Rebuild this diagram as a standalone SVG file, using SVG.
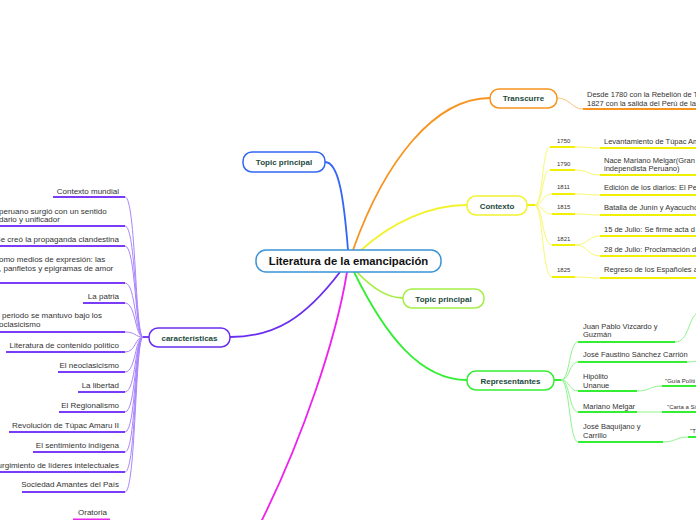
<svg xmlns="http://www.w3.org/2000/svg" width="696" height="520" viewBox="0 0 696 520">
<style>
text{font-family:"Liberation Sans",Arial,sans-serif;fill:#333}
.node{fill:#fff;stroke-width:1.5}
.lbl{font-weight:bold;font-size:8px;fill:#1d4a3c;text-anchor:middle}
.main{font-weight:bold;font-size:11.3px;fill:#111;text-anchor:middle}
.t8{font-size:8px}
.t75{font-size:7.5px}
.t6{font-size:6px}
.end{text-anchor:end}
.c{fill:none}
.ul{fill:none;stroke-width:2}
.pu{stroke:#7a3cf7}
.pul{stroke:#a986fb;stroke-width:1}
.ye{stroke:#f0f000}
.yel{stroke:#f8f870;stroke-width:1}
.gr{stroke:#33ee33}
.grl{stroke:#8ef58e;stroke-width:1}
.or{stroke:#f7931e}
</style>
<g id="connectors">
<path class="c" d="M348,250 C344,200 339,162 325,162" stroke="#3366f5" stroke-width="1.8"/>
<path class="c" d="M353,250 C385,160 435,98 490,98" stroke="#f7931e" stroke-width="1.8"/>
<path class="c" d="M360,251 C392,222 430,205 467,205" stroke="#f2f230" stroke-width="1.8"/>
<path class="c" d="M357,272 C372,288 388,298 403,298" stroke="#a3ef45" stroke-width="1.8"/>
<path class="c" d="M354,272 C385,335 420,380 467,380" stroke="#33ee33" stroke-width="1.8"/>
<path class="c" d="M340,272 C305,318 275,337 230,337" stroke="#6a2ef0" stroke-width="1.8"/>
<path class="c" d="M347,272 C336,340 302,440 260,524" stroke="#ee22ee" stroke-width="1.8"/>
<!-- transcurre -->
<path class="c" d="M557,98 C570,98 572,109 583,109" stroke="#fbc27a" stroke-width="1"/>
<path class="ul or" d="M583,109 H696"/>
<!-- contexto -->
<path d="M526,205 H535" class="ul ye"/>
<g class="c yel">
<path d="M535,205 C543,205 542,147 550,147"/>
<path d="M535,205 C543,205 542,170 550,170"/>
<path d="M535,205 C543,205 542,194 552,194"/>
<path d="M535,205 C543,205 542,214 552,214"/>
<path d="M535,205 C543,205 542,245 552,245"/>
<path d="M535,205 C543,205 542,277 552,277"/>
<path d="M575,147 C588,147 588,148 600,148"/>
<path d="M575,170 C588,170 588,175 600,175"/>
<path d="M575,194 C588,194 588,195 600,195"/>
<path d="M575,214 C588,214 588,215 600,215"/>
<path d="M575,245 C588,245 588,236 600,236"/>
<path d="M575,245 C588,245 588,256 600,256"/>
<path d="M575,277 C588,277 588,278 600,278"/>
</g>
<g class="ul ye">
<path d="M550,147 H575"/><path d="M550,170 H575"/><path d="M552,194 H575"/><path d="M552,214 H575"/><path d="M552,245 H575"/><path d="M552,277 H575"/>
<path d="M600,148 H696"/><path d="M600,175 H696"/><path d="M600,195 H696"/><path d="M600,215 H696"/><path d="M600,236 H696"/><path d="M600,256 H696"/><path d="M600,278 H696"/>
</g>
<!-- representantes -->
<path d="M553,380 H561" class="ul gr"/>
<g class="c grl">
<path d="M561,380 C570,380 569,342 578,342"/>
<path d="M561,380 C570,380 569,362 578,362"/>
<path d="M561,380 C570,380 569,391 578,391"/>
<path d="M561,380 C570,380 569,412 578,412"/>
<path d="M561,380 C570,380 569,442 578,442"/>
<path d="M675,342 C690,342 688,314 700,312"/>
<path d="M687,362 C692,362 694,361 700,361"/>
<path d="M637,391 C650,391 650,386 662,386"/>
<path d="M637,412 H662"/>
<path d="M663,442 C676,442 676,437 688,437"/>
</g>
<g class="ul gr">
<path d="M578,342 H675"/><path d="M578,362 H687"/><path d="M578,391 H637"/><path d="M578,412 H637"/><path d="M578,442 H663"/>
<path d="M662,386 H696"/><path d="M662,412 H696"/><path d="M688,437 H696"/>
</g>
<!-- caracteristicas -->
<path d="M149,337 H143" class="ul pu"/>
<g class="c pul">
<path d="M143,337 C135,337 136,197 125,197"/>
<path d="M143,337 C135,337 136,226 125,226"/>
<path d="M143,337 C135,337 136,246 125,246"/>
<path d="M143,337 C135,337 136,283 125,283"/>
<path d="M143,337 C135,337 136,303 125,303"/>
<path d="M143,337 C135,337 136,332 125,332"/>
<path d="M143,337 C135,337 136,352 125,352"/>
<path d="M143,337 C135,337 136,372 125,372"/>
<path d="M143,337 C135,337 136,392 125,392"/>
<path d="M143,337 C135,337 136,412 125,412"/>
<path d="M143,337 C135,337 136,432 125,432"/>
<path d="M143,337 C135,337 136,452 125,452"/>
<path d="M143,337 C135,337 136,472 125,472"/>
<path d="M143,337 C135,337 136,492 125,492"/>
</g>
<g class="ul pu">
<path d="M53,197 H125"/><path d="M0,226 H125"/><path d="M0,246 H125"/><path d="M0,283 H125"/><path d="M83,303 H125"/><path d="M0,332 H125"/><path d="M6,352 H125"/><path d="M58,372 H125"/><path d="M78,392 H125"/><path d="M59,412 H125"/><path d="M9,432 H125"/><path d="M33,452 H125"/><path d="M0,472 H125"/><path d="M22,492 H125"/>
</g>
<path d="M73,519.5 H110" class="ul" stroke="#ee22ee"/>
</g>
<g id="center">
<rect class="node" x="256" y="250" width="185" height="22" rx="10" stroke="#3a93d6"/>
<text class="main" x="348.5" y="265">Literatura de la emancipación</text>
</g>
<g id="topic-top">
<rect class="node" x="243" y="152" width="82" height="20" rx="9" stroke="#3366f5"/>
<text class="lbl" x="284" y="165">Topic principal</text>
</g>
<g id="transcurre">
<rect class="node" x="490" y="89" width="67" height="19" rx="9" stroke="#f7931e"/>
<text class="lbl" x="523.5" y="101">Transcurre</text>
<text class="t75" x="587" y="97">Desde 1780 con la Rebelión de Tú</text>
<text class="t75" x="587" y="105.5">1827 con la salida del Perú de las</text>
</g>
<g id="contexto">
<rect class="node" x="467" y="196" width="60" height="19" rx="9" stroke="#f2f230"/>
<text class="lbl" x="497" y="208.5">Contexto</text>
<text class="t6" x="557" y="143">1750</text>
<text class="t6" x="557" y="166">1790</text>
<text class="t6" x="557" y="189">1811</text>
<text class="t6" x="557" y="209">1815</text>
<text class="t6" x="557" y="241">1821</text>
<text class="t6" x="557" y="272">1825</text>
<text class="t75" x="604" y="143.5">Levantamiento de Túpac Am</text>
<text class="t75" x="604" y="162.5">Nace Mariano Melgar(Gran p</text>
<text class="t75" x="604" y="171">independista Peruano)</text>
<text class="t75" x="604" y="189.5">Edición de los diarios: El Per</text>
<text class="t75" x="604" y="209.5">Batalla de Junín y Ayacucho</text>
<text class="t75" x="604" y="231.5">15 de Julio: Se firme acta d</text>
<text class="t75" x="604" y="251.5">28 de Julio: Proclamación de</text>
<text class="t75" x="604" y="272">Regreso de los Españoles a l</text>
</g>
<g id="topic-right">
<rect class="node" x="403" y="289" width="81" height="19" rx="9" stroke="#a3ef45"/>
<text class="lbl" x="443.5" y="301.5">Topic principal</text>
</g>
<g id="representantes">
<rect class="node" x="467" y="371" width="87" height="19" rx="9" stroke="#33ee33"/>
<text class="lbl" x="510.5" y="383.5">Representantes</text>
<text class="t75" x="583" y="328.5">Juan Pablo Vizcardo y</text>
<text class="t75" x="583" y="336.5">Guzmán</text>
<text class="t75" x="583" y="357">José Faustino Sánchez Carrión</text>
<text class="t75" x="583" y="379">Hipólito</text>
<text class="t75" x="583" y="387.5">Unanue</text>
<text class="t75" x="583" y="408.5">Mariano Melgar</text>
<text class="t75" x="583" y="429">José Baquíjano y</text>
<text class="t75" x="583" y="437.5">Carrillo</text>
<text class="t6" x="665" y="383">"Guía Políti</text>
<text class="t6" x="667" y="408.5">"Carta a Si</text>
<text class="t6" x="690" y="433">"T</text>
</g>
<g id="caracteristicas">
<rect class="node" x="149" y="328" width="81" height="19" rx="9" stroke="#6a2ef0"/>
<text class="lbl" x="189.5" y="340.5">características</text>
<text class="t8 end" x="119" y="194">Contexto mundial</text>
<text class="t8" x="-1" y="213.5">peruano surgió con un sentido</text>
<text class="t8" x="-1" y="221.5">dario y unificador</text>
<text class="t8 end" x="119" y="242">Se creó la propaganda clandestina</text>
<text class="t8" x="-1" y="262">omo medios de expresión: las</text>
<text class="t8" x="-1" y="270.5">, panfletos y epigramas de amor</text>
<text class="t8 end" x="119" y="299">La patria</text>
<text class="t8" x="2" y="318">periodo se mantuvo bajo los</text>
<text class="t8" x="-1" y="327">oclasicismo</text>
<text class="t8 end" x="119" y="348">Literatura de contenido político</text>
<text class="t8 end" x="119" y="368">El neoclasicismo</text>
<text class="t8 end" x="119" y="388">La libertad</text>
<text class="t8 end" x="119" y="408">El Regionalismo</text>
<text class="t8 end" x="119" y="428">Revolución de Túpac Amaru II</text>
<text class="t8 end" x="119" y="448">El sentimiento indígena</text>
<text class="t8 end" x="119" y="468">urgimiento de líderes intelectuales</text>
<text class="t8 end" x="119" y="487">Sociedad Amantes del País</text>
</g>
<g id="oratoria">
<text class="t8" x="78" y="514.5">Oratoria</text>
</g>
</svg>
